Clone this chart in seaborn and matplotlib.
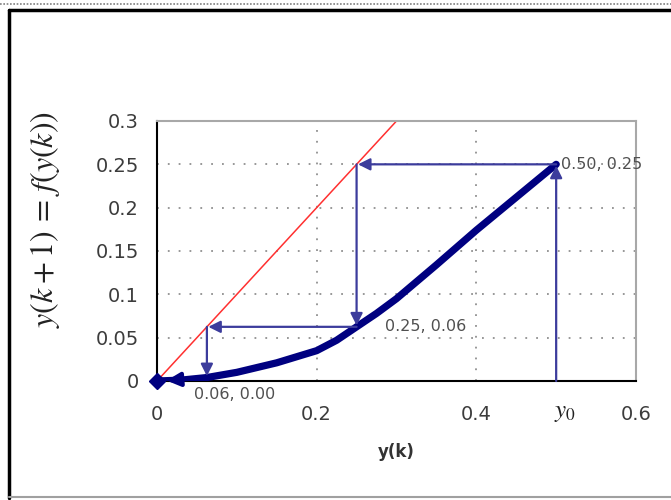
import matplotlib
matplotlib.use("Agg")
import matplotlib.pyplot as plt
import seaborn as sns
from matplotlib.lines import Line2D

# curve f(y)
curve_x = [0.0, 0.03, 0.0625, 0.1, 0.15, 0.2, 0.225, 0.25, 0.275, 0.3, 0.35, 0.4, 0.45, 0.5]
curve_y = [0.0, 0.001, 0.004, 0.010, 0.021, 0.035, 0.047, 0.0625, 0.078, 0.095, 0.134, 0.174, 0.212, 0.25]

# y = x reference line
diag_x = [0.0, 0.3]
diag_y = [0.0, 0.3]

# cobweb arrows: (start, end)
cobweb = [
    ((0.5, 0.0), (0.5, 0.25)),
    ((0.5, 0.25), (0.25, 0.25)),
    ((0.25, 0.25), (0.25, 0.0625)),
    ((0.25, 0.0625), (0.0625, 0.0625)),
    ((0.0625, 0.0625), (0.0625, 0.004)),
]
last_step = ((0.0625, 0.004), (0.0, 0.0))

point_labels = ["0.50, 0.25", "0.25, 0.06", "0.06, 0.00"]
label_pos = [(0.506, 0.25), (0.285, 0.0625), (0.0975, -0.016)]
label_ha = ["left", "left", "center"]

xticks = [0, 0.2, 0.4, 0.6]
xticklabels = ["0", "0.2", "0.4", "0.6"]
yticks = [0, 0.05, 0.1, 0.15, 0.2, 0.25, 0.3]
yticklabels = ["0", "0.05", "0.1", "0.15", "0.2", "0.25", "0.3"]

sns.set_style("white")
plt.rcParams["font.family"] = ["DejaVu Sans"]
plt.rcParams["mathtext.fontset"] = "stix"

navy = "#000080"
arrow_col = "#3c3c9c"

fig = plt.figure(figsize=(6.71, 5.0), dpi=100)
ax = fig.add_axes([157 / 671, 1 - 381 / 500, (636 - 157) / 671, (381 - 121) / 500])

for yv in yticks[1:-1]:
    ax.axhline(yv, color="#909090", lw=1.3, ls=(0, (1, 5)), zorder=0)
for xv in xticks[1:-1]:
    ax.axvline(xv, color="#909090", lw=1.3, ls=(0, (1, 5)), zorder=0)

sns.lineplot(x=diag_x, y=diag_y, color="#ff3030", lw=1.1, ax=ax, zorder=2)
sns.lineplot(x=curve_x, y=curve_y, color=navy, lw=5.2, ax=ax, zorder=3,
             sort=False, solid_capstyle="round", solid_joinstyle="round")
ax.plot([0], [0], marker="D", color=navy, ms=8, zorder=4, clip_on=False)

for (x0, y0), (x1, y1) in cobweb:
    ax.annotate("", xy=(x1, y1), xytext=(x0, y0),
                arrowprops=dict(arrowstyle="-|>", color=arrow_col, lw=1.6,
                                mutation_scale=18, shrinkA=0, shrinkB=1),
                zorder=5)
(x0, y0), (x1, y1) = last_step
ax.annotate("", xy=(x1 + 0.012, y1 + 0.0005), xytext=(x0, y0),
            arrowprops=dict(arrowstyle="-|>", color=navy, lw=3,
                            mutation_scale=20, shrinkA=0, shrinkB=0),
            zorder=5)

for txt, (tx, ty), ha in zip(point_labels, label_pos, label_ha):
    ax.text(tx, ty, txt, ha=ha, va="center", fontsize=11.5, color="#505050")

ax.set_xlim(0, 0.6)
ax.set_ylim(0, 0.3)
ax.set_xticks(xticks)
ax.set_xticklabels(xticklabels)
ax.set_yticks(yticks)
ax.set_yticklabels(yticklabels)
ax.tick_params(axis="both", direction="out", length=5, width=1.3,
               labelsize=14, labelcolor="#3c3c3c", color="black")
ax.tick_params(axis="x", pad=12)
ax.tick_params(axis="y", pad=8)

for side in ["left", "bottom"]:
    ax.spines[side].set_color("black")
    ax.spines[side].set_linewidth(1.5)
for side in ["top", "right"]:
    ax.spines[side].set_color("#a8a8a8")
    ax.spines[side].set_linewidth(1.5)

ax.set_xlabel("y(k)", fontsize=12, fontweight="bold", color="#333333", labelpad=14)
ax.set_ylabel(r"$y(k+1)\,=\,f(y(k))$", fontsize=23, color="#222222")
ax.yaxis.set_label_coords(-0.198, 0.62)

ax.text(0.497, -0.12, r"$y_{0}$", transform=ax.get_xaxis_transform(),
        ha="left", va="center", fontsize=18, color="#222222")

# outer frame like the pasted chart object
fig.add_artist(Line2D([9 / 671, 9 / 671], [2 / 500, 490 / 500], color="black", lw=2.5,
                      transform=fig.transFigure))
fig.add_artist(Line2D([9 / 671, 1], [490 / 500, 490 / 500], color="black", lw=2.5,
                      transform=fig.transFigure))
fig.add_artist(Line2D([0, 1], [496 / 500, 496 / 500], color="#808080", lw=1.2,
                      ls=(0, (1, 1)), transform=fig.transFigure))
fig.add_artist(Line2D([9 / 671, 1], [3 / 500, 3 / 500], color="#a0a0a0", lw=1.5,
                      transform=fig.transFigure))

fig.savefig("out.png", dpi=100)
